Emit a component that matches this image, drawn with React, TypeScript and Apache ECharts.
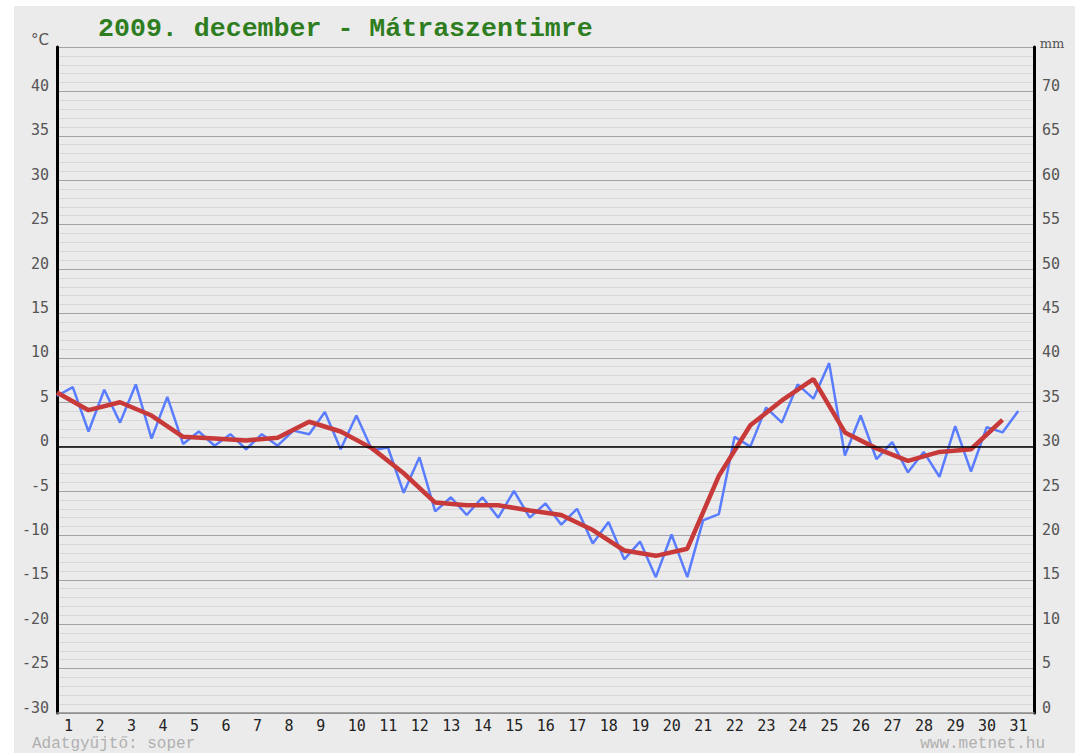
import React, { useEffect, useRef } from "react";
import * as echarts from "echarts";

const dayLabels: string[] = Array.from({ length: 31 }, (_, i) => String(i + 1));

// half-day readings (alternating), starting at day 1
const halfDayTemps: number[] = [
  5.7, 6.7, 1.7, 6.4, 2.7, 7.0, 0.9, 5.6, 0.3, 1.7,
  0.1, 1.4, -0.3, 1.4, 0.1, 1.8, 1.4, 3.9, -0.3, 3.5,
  -0.4, -0.1, -5.2, -1.2, -7.3, -5.7, -7.7, -5.7, -8.0, -5.0,
  -8.0, -6.4, -8.8, -7.0, -10.9, -8.5, -12.7, -10.7, -14.7, -9.9,
  -14.7, -8.3, -7.6, 1.1, 0.0, 4.4, 2.7, 7.0, 5.4, 9.4,
  -1.0, 3.5, -1.4, 0.5, -2.9, -0.6, -3.4, 2.3, -2.8, 2.2,
  1.6, 4.0,
];

// daily mean temperatures
const dailyMeans: number[] = [
  6.1, 4.1, 5.0, 3.5, 1.1, 0.9, 0.7, 1.0, 2.8, 1.7,
  -0.2, -3.0, -6.3, -6.6, -6.6, -7.2, -7.7, -9.4, -11.7, -12.3,
  -11.5, -3.3, 2.4, 5.2, 7.6, 1.6, -0.2, -1.6, -0.6, -0.3,
  3.0,
];

const tempTicks = { min: -30, max: 45, step: 5 };
const mmTicks = { min: 0, max: 75, step: 5 };

const OX = 14;
const OY = 6;

export default function App() {
  const ref = useRef<HTMLDivElement>(null);

  useEffect(() => {
    if (!ref.current) return;
    const chart = echarts.init(ref.current, undefined, { renderer: "svg" });
    const blueData = halfDayTemps.map((v, i) => [i * 0.5, v]);
    const redData = dailyMeans.map((v, i) => [i, v]);
    const labelFont = "DejaVu Sans Mono";

    chart.setOption({
      animation: false,
      backgroundColor: "#ebebeb",
      grid: { left: 57 - OX, top: 47 - OY, right: 1061 - (1034 - OX), bottom: 747 - (713 - OY) },
      xAxis: {
        type: "value",
        min: 0,
        max: dayLabels.length,
        interval: 1,
        axisLine: { show: true, onZero: false, lineStyle: { color: "#8c8c8c", width: 1.5 } },
        axisTick: { show: false },
        splitLine: { show: false },
        axisLabel: {
          show: true,
          formatter: (v: number) => (v < dayLabels.length ? dayLabels[v] : ""),
          align: "left",
          padding: [0, 0, 0, 7],
          margin: 6,
          lineHeight: 14,
          color: "#222",
          fontFamily: labelFont,
          fontSize: 15,
        },
      },
      yAxis: [
        {
          type: "value",
          min: tempTicks.min,
          max: tempTicks.max,
          interval: tempTicks.step,
          axisLine: { show: true, onZero: false, lineStyle: { color: "#000", width: 3 } },
          axisTick: { show: false },
          axisLabel: {
            formatter: (v: number) => (v === tempTicks.max ? "" : String(v)),
            color: "#555",
            fontFamily: labelFont,
            fontSize: 15,
            margin: 8,
            verticalAlign: "bottom",
            lineHeight: 11,
          },
          splitLine: { show: true, lineStyle: { color: "#a3a3a3", width: 1 } },
          minorTick: { show: false, splitNumber: 5 },
          minorSplitLine: { show: true, lineStyle: { color: "#d7d7d7", width: 1 } },
        },
        {
          type: "value",
          position: "right",
          min: mmTicks.min,
          max: mmTicks.max,
          interval: mmTicks.step,
          axisLine: { show: true, onZero: false, lineStyle: { color: "#000", width: 3 } },
          axisTick: { show: false },
          splitLine: { show: false },
          axisLabel: {
            formatter: (v: number) => (v === mmTicks.max ? "" : String(v)),
            color: "#555",
            fontFamily: labelFont,
            fontSize: 15,
            margin: 8,
            verticalAlign: "bottom",
            lineHeight: 11,
          },
        },
      ],
      series: [
        {
          type: "line",
          data: blueData,
          symbol: "none",
          lineStyle: { color: "#5a7dff", width: 2.5 },
          z: 3,
          markLine: {
            silent: true,
            symbol: ["none", "none"],
            label: { show: false },
            lineStyle: { color: "#000", width: 1.5, type: "solid" },
            data: [{ yAxis: 0 }],
          },
        },
        {
          type: "line",
          data: redData,
          symbol: "none",
          lineStyle: { color: "#c83a3a", width: 4.5 },
          z: 4,
        },
      ],
      graphic: [
        {
          type: "text",
          x: 98 - OX,
          y: 29 - OY,
          style: {
            text: "2009. december - Mátraszentimre",
            fill: "#2e7d1f",
            font: "bold 26.6px 'Liberation Mono'",
            align: "left",
            verticalAlign: "middle",
          },
        },
        {
          type: "text",
          x: 40 - OX,
          y: 40 - OY,
          style: {
            text: "°C",
            fill: "#555",
            font: "15px 'DejaVu Sans'",
            align: "center",
            verticalAlign: "middle",
          },
        },
        {
          type: "text",
          x: 1052 - OX,
          y: 43 - OY,
          style: {
            text: "mm",
            fill: "#555",
            font: "13px 'DejaVu Serif'",
            align: "center",
            verticalAlign: "middle",
          },
        },
        {
          type: "text",
          x: 32 - OX,
          y: 744 - OY,
          style: {
            text: "Adatgyűjtő: soper",
            fill: "#b0b0b0",
            font: "16px 'Liberation Mono'",
            lineHeight: 13,
            align: "left",
            verticalAlign: "middle",
          },
        },
        {
          type: "text",
          x: 1045 - OX,
          y: 744 - OY,
          style: {
            text: "www.metnet.hu",
            fill: "#b0b0b0",
            font: "16px 'Liberation Mono'",
            lineHeight: 13,
            align: "right",
            verticalAlign: "middle",
          },
        },
      ],
    });
    return () => chart.dispose();
  }, []);

  return (
    <div
      ref={ref}
      style={{ position: "absolute", left: OX, top: OY, width: 1075 - OX, height: 753 - OY }}
    />
  );
}
